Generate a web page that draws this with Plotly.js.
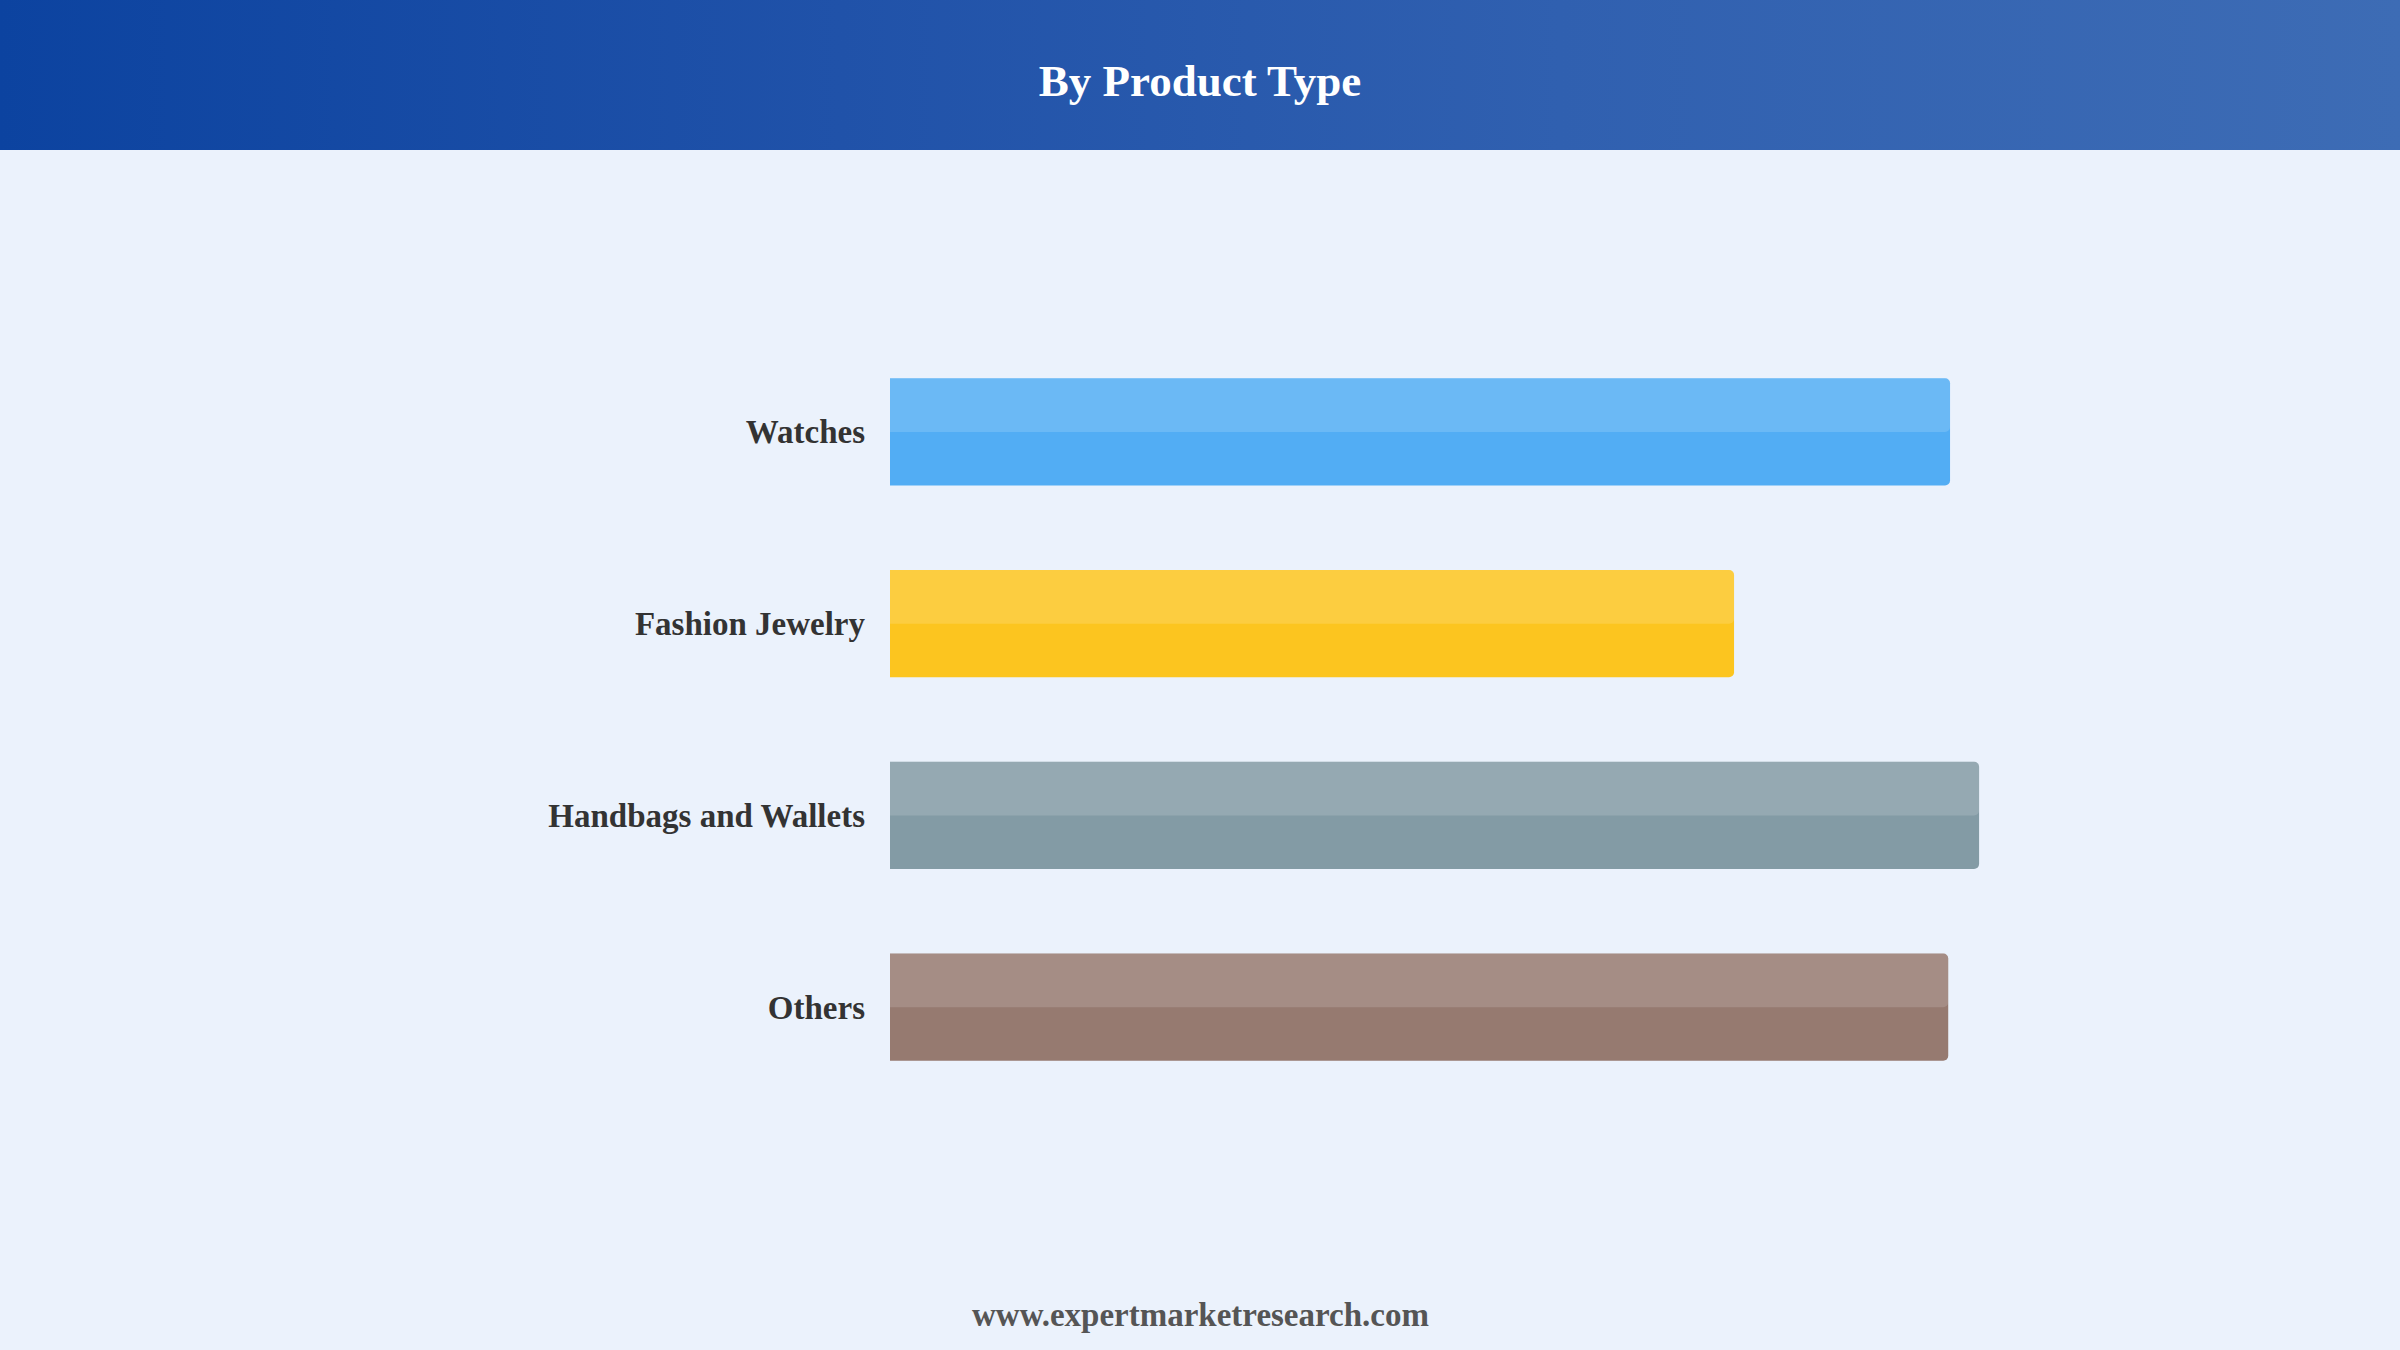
<!DOCTYPE html>
<html>
<head>
<meta charset="utf-8">
<script src="https://cdn.plot.ly/plotly-3.0.1.min.js"></script>
<style>
  html, body { margin: 0; padding: 0; width: 2400px; height: 1350px; overflow: hidden; background: #EBF2FC; }
  #header { position: absolute; left: 0; top: 0; width: 2400px; height: 150px;
            background: linear-gradient(90deg, #0C43A0 0%, #2052A9 35%, #3060B0 65%, #3D6CB5 100%); }
  #chart { position: absolute; left: 0; top: 0; width: 2400px; height: 1350px; }
</style>
</head>
<body>
<div id="header"></div>
<div id="chart"></div>
<script>
// Data
const categories = ["Watches", "Fashion Jewelry", "Handbags and Wallets", "Others"];
const values = [29.2, 23.25, 30.0, 29.15];
const baseColors = ["#52ADF4", "#FCC51F", "#839BA5", "#967A70"];
const chartTitle = "By Product Type";
const footerText = "www.expertmarketresearch.com";

const barWidth = 0.56;

const baseTrace = {
  type: "bar",
  orientation: "h",
  y: categories,
  x: values,
  width: barWidth,
  offset: -barWidth / 2,
  marker: { color: baseColors, cornerradius: 5, line: { width: 0 } },
  hoverinfo: "y+x",
  showlegend: false
};

const highlightTrace = {
  type: "bar",
  orientation: "h",
  y: categories,
  x: values,
  width: barWidth / 2,
  offset: -barWidth / 2,
  marker: { color: "rgba(255,255,255,0.15)", cornerradius: 5, line: { width: 0 } },
  hoverinfo: "skip",
  showlegend: false
};

const layout = {
  width: 2400,
  height: 1350,
  paper_bgcolor: "rgba(0,0,0,0)",
  plot_bgcolor: "rgba(0,0,0,0)",
  barmode: "overlay",
  margin: { l: 890, r: 312, t: 336, b: 247, pad: 0 },
  title: {
    text: "<b>" + chartTitle + "</b>",
    font: { family: "Liberation Serif, Times New Roman, serif", size: 45, color: "#FFFFFF" },
    x: 0.5, xanchor: "center",
    y: 1 - 80 / 1350, yanchor: "middle",
    yref: "container"
  },
  xaxis: {
    range: [0, 33],
    visible: false,
    showgrid: false,
    zeroline: false,
    fixedrange: true
  },
  yaxis: {
    type: "category",
    autorange: "reversed",
    showgrid: false,
    zeroline: false,
    showline: false,
    ticks: "",
    ticklabelstandoff: 24,
    tickfont: { family: "Liberation Serif, Times New Roman, serif", size: 33, color: "#333333", weight: "bold" },
    fixedrange: true
  },
  annotations: [{
    text: "<b>" + footerText + "</b>",
    xref: "paper", yref: "paper",
    x: 0.5,
    y: 0,
    showarrow: false,
    font: { family: "Liberation Serif, Times New Roman, serif", size: 33, color: "#555555" }
  }]
};

// center footer on page: convert page-center x (1200px) to paper fraction
const plotW = 2400 - layout.margin.l - layout.margin.r;
const plotH = 1350 - layout.margin.t - layout.margin.b;
layout.annotations[0].x = (1200 - layout.margin.l) / plotW;
layout.annotations[0].xanchor = "center";
layout.annotations[0].y = -((1315 - (1350 - layout.margin.b)) / plotH);
layout.annotations[0].yanchor = "middle";

Plotly.newPlot("chart", [baseTrace, highlightTrace], layout, { displayModeBar: false, staticPlot: true });
</script>
</body>
</html>
